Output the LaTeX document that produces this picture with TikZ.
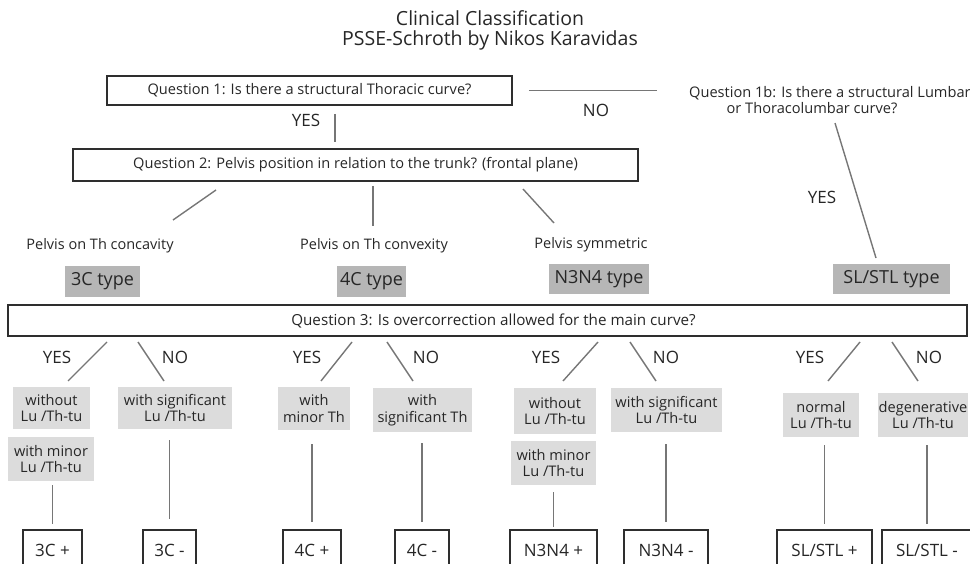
\documentclass[tikz,border=0pt]{standalone}
\usepackage{fontspec}
\setmainfont{Open Sans}
\usepackage{tikz}

\definecolor{boxline}{HTML}{2E2E2E}
\definecolor{linkgray}{HTML}{767676}
\definecolor{typefill}{HTML}{B6B6B6}
\definecolor{subfill}{HTML}{DCDCDC}

\tikzset{
  qbox/.style={draw=boxline,line width=1.6pt,inner sep=0pt,font=\fontsize{14.6}{16}\selectfont},
  qtext/.style={inner sep=0pt,font=\fontsize{14.6}{17}\selectfont},
  typebox/.style={fill=typefill,inner sep=0pt,font=\fontsize{18}{20}\selectfont},
  subbox/.style={fill=subfill,inner sep=0pt,align=center,font=\fontsize{14.6}{16.5}\selectfont},
  endbox/.style={draw=boxline,line width=1.6pt,inner sep=0pt,minimum height=40pt,font=\fontsize{17}{19}\selectfont},
  answer/.style={inner sep=0pt,font=\fontsize{17}{19}\selectfont},
  pelvis/.style={inner sep=0pt,font=\fontsize{14.5}{16}\selectfont},
  link/.style={draw=linkgray,line width=1.4pt}
}

\begin{document}
\begin{tikzpicture}[x=1pt,y=-1pt,text=black!85]
  \useasboundingbox (0,0) rectangle (970,564);
  \clip (0,0) rectangle (970,564);

  \node[align=center,font=\fontsize{19.5}{20}\selectfont] (title) at (490,30)
    {Clinical Classification\\PSSE-Schroth by Nikos Karavidas};

  % first two questions
  \node[qbox,minimum width=405pt,minimum height=29pt] (q1) at (309.5,90.5)
    {Question 1: Is there a structural Thoracic curve?};
  \node[qtext,anchor=west] (q1b) at (689,93) {Question 1b: Is there a structural Lumbar};
  \node[qtext] (q1c) at (812,108) {or Thoracolumbar curve?};
  \node[answer] (no1) at (596,110) {NO};
  \node[answer] (yes1) at (306,120) {YES};
  \node[answer] (yes1b) at (822,197) {YES};
  \node[qbox,minimum width=565pt,minimum height=32pt] (q2) at (355.5,165)
    {Question 2: Pelvis position in relation to the trunk? (frontal plane)};

  \draw[link,shorten <=16pt,shorten >=32pt] (q1.east) -- (q1.east -| q1b.west);
  \draw[link,shorten <=8pt,shorten >=6pt] ([xshift=25.5pt]q1.south) -- ([xshift=25.5pt]q1.south |- q2.north);

  \node[pelvis] (pconc) at (100,246) {Pelvis on Th concavity};
  \node[pelvis] (pconv) at (374,246) {Pelvis on Th convexity};
  \node[pelvis] (psym) at (591,245) {Pelvis symmetric};

  \node[typebox,minimum width=75pt,minimum height=31pt] (t3c) at (102.5,281.5) {3C type};
  \node[typebox,minimum width=69pt,minimum height=31pt] (t4c) at (371.5,281.5) {4C type};
  \node[typebox,minimum width=100pt,minimum height=30pt] (tn) at (599,279) {N3N4 type};
  \node[typebox,minimum width=117pt,minimum height=30pt] (tsl) at (891.5,279) {SL/STL type};

  \coordinate (s1) at (216,190); \coordinate (e1) at (173,220);
  \coordinate (s2) at (373,186); \coordinate (e2) at (373,226);
  \coordinate (s3) at (523,189); \coordinate (e3) at (554,223);
  \coordinate (s4) at (835,123); \coordinate (e4) at (876,258);
  \foreach \i in {1,...,4}
    \draw[link] (s\i) -- (e\i);

  % third question
  \node[qbox,minimum width=959pt,minimum height=31pt,font=\fontsize{15.2}{17}\selectfont] (q3) at (487.5,320.5)
    {\hspace{12pt}Question 3: Is overcorrection allowed for the main curve?};

  \foreach \x [count=\k] in {57,307,546,810}
    \node[answer] (yes\k) at (\x,357) {YES};
  \foreach \x [count=\k] in {175,426,666,929}
    \node[answer] (no\k) at (\x,357) {NO};

  \coordinate (ya1) at (107,342); \coordinate (yb1) at (68,381);
  \coordinate (na1) at (138,342); \coordinate (nb1) at (164,381);
  \coordinate (ya2) at (352,342); \coordinate (yb2) at (321,381);
  \coordinate (na2) at (387,342); \coordinate (nb2) at (413,381);
  \coordinate (ya3) at (598,342); \coordinate (yb3) at (563,381);
  \coordinate (na3) at (630,342); \coordinate (nb3) at (656,381);
  \coordinate (ya4) at (860,342); \coordinate (yb4) at (828,381);
  \coordinate (na4) at (892,342); \coordinate (nb4) at (918,381);
  \foreach \i in {1,...,4}{
    \draw[link] (ya\i) -- (yb\i);
    \draw[link] (na\i) -- (nb\i);
  }

  \node[subbox,minimum width=77pt,minimum height=42pt] (a1) at (51.5,408) {without\\Lu /Th-tu};
  \node[subbox,minimum width=86pt,minimum height=44pt] (a2) at (51,459) {with minor\\Lu /Th-tu};
  \node[subbox,minimum width=114pt,minimum height=42pt] (b1) at (175,408) {with significant\\Lu /Th-tu};
  \node[subbox,minimum width=72pt,minimum height=43pt] (c1) at (314,408.5) {with\\minor Th};
  \node[subbox,minimum width=99pt,minimum height=44pt] (d1) at (422.5,410) {with\\significant Th};
  \node[subbox,minimum width=82pt,minimum height=46pt] (e1b) at (555,411) {without\\Lu /Th-tu};
  \node[subbox,minimum width=85pt,minimum height=44pt] (e2b) at (553.5,463) {with minor\\Lu /Th-tu};
  \node[subbox,minimum width=111pt,minimum height=44pt] (f1) at (666.5,410) {with significant\\Lu /Th-tu};
  \node[subbox,minimum width=76pt,minimum height=44pt] (g1) at (821,415) {normal\\Lu /Th-tu};
  \node[subbox,minimum width=90pt,minimum height=44pt] (h1) at (923,415) {degenerative\\Lu /Th-tu};

  % end types, cut by the lower edge
  \node[endbox,minimum width=59pt] (p3c) at (52.5,550) {3C +};
  \node[endbox,minimum width=53pt] (m3c) at (169.5,550) {3C -};
  \node[endbox,minimum width=58pt] (p4c) at (312,550) {4C +};
  \node[endbox,minimum width=54pt] (m4c) at (422,550) {4C -};
  \node[endbox,minimum width=87pt] (pn) at (553.5,550) {N3N4 +};
  \node[endbox,minimum width=84pt] (mn) at (666,550) {N3N4 -};
  \node[endbox,minimum width=95pt] (psl) at (824.5,550) {SL/STL +};
  \node[endbox,minimum width=90pt] (msl) at (927,550) {SL/STL -};

  \foreach \a/\b/\s/\e in {a2/p3c/4/5,b1/m3c/11/10,c1/p4c/14/7,d1/m4c/11/7,
      e2b/pn/7/2,f1/mn/12/7,g1/psl/8/5,h1/msl/8/5}
    \draw[link,shorten <=\s pt,shorten >=\e pt] (\b.north |- \a.south) -- (\b.north);
\end{tikzpicture}
\end{document}
